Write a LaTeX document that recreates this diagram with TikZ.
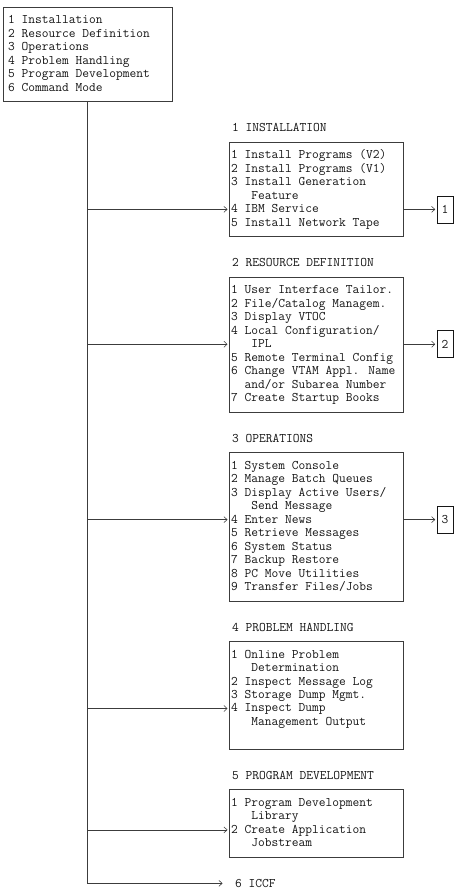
\documentclass[tikz,border=0pt]{standalone}
\usepackage{fontspec}
\usepackage{tikz}
\usetikzlibrary{arrows.meta,calc,positioning}
\definecolor{ink}{HTML}{161616}
\definecolor{rule}{HTML}{3C3C3C}
\newcommand{\ind}{\hphantom{000}}
\newcommand{\indb}{\hphantom{00}}
\newcommand{\rowh}{13.49}

\begin{document}
\begin{tikzpicture}[x=1pt,y=-1pt,font=\ttfamily\fontsize{13.1}{13.5}\selectfont,
  wire/.style={rule,line width=0.55pt},
  arr/.style={wire,-{Straight Barb[length=3.2pt,width=6pt]},shorten >=1.5pt},
  menubox/.style={draw=rule,line width=0.55pt,anchor=north west,inner sep=0pt,minimum width=174pt},
  tagbox/.style={draw=rule,line width=0.55pt,inner sep=0pt,minimum width=16pt,minimum height=27pt,color=ink},
  item/.style={anchor=base west,inner sep=0pt,color=ink}]
  \fill[white] (0,0) rectangle (456,895);
  \useasboundingbox (0,0) rectangle (456,895);
  \node[menubox,minimum width=169pt,minimum height={7*\rowh}] (main) at (3,7) {};
  \foreach \r/\t in {1/{1 Installation},2/{2 Resource Definition},3/{3 Operations},
    4/{4 Problem Handling},5/{5 Program Development},6/{6 Command Mode}}
    \node[item] (main\r) at (8,{10.5+\rowh*\r}) {\t};
  \foreach \name/\top/\rows/\head in {inst/10/7/{1 INSTALLATION},res/20/10/{2 RESOURCE DEFINITION},
    oper/33/11/{3 OPERATIONS},prob/47/8/{4 PROBLEM HANDLING},prog/58/5/{5 PROGRAM DEVELOPMENT}} {
    \node[item] (h\name) at (232,{10.5+\rowh*(\top-1)}) {\head};
    \node[menubox,minimum height={\rowh*\rows}] (\name) at (229,{7+\rowh*\top}) {};
  }
  \foreach \r/\t in {1/{1 Install Programs (V2)},2/{2 Install Programs (V1)},3/{3 Install Generation},
    4/{\ind Feature},5/{4 IBM Service},6/{5 Install Network Tape}}
    \node[item] (inst\r) at (231,{10.5+\rowh*(10+\r)}) {\t};
  \foreach \r/\t in {1/{1 User Interface Tailor.},2/{2 File/Catalog Managem.},3/{3 Display VTOC},
    4/{4 Local Configuration/},5/{\ind IPL},6/{5 Remote Terminal Config},7/{6 Change VTAM Appl. Name},
    8/{\indb and/or Subarea Number},9/{7 Create Startup Books}}
    \node[item] (res\r) at (231,{10.5+\rowh*(20+\r)}) {\t};
  \foreach \r/\t in {1/{1 System Console},2/{2 Manage Batch Queues},3/{3 Display Active Users/},
    4/{\ind Send Message},5/{4 Enter News},6/{5 Retrieve Messages},7/{6 System Status},
    8/{7 Backup Restore},9/{8 PC Move Utilities},10/{9 Transfer Files/Jobs}}
    \node[item] (oper\r) at (231,{10.5+\rowh*(33+\r)}) {\t};
  \foreach \r/\t in {1/{1 Online Problem},2/{\ind Determination},3/{2 Inspect Message Log},
    4/{3 Storage Dump Mgmt.},5/{4 Inspect Dump},6/{\ind Management Output}}
    \node[item] (prob\r) at (231,{10.5+\rowh*(47+\r)}) {\t};
  \foreach \r/\t in {1/{1 Program Development},2/{\ind Library},3/{2 Create Application},4/{\ind Jobstream}}
    \node[item] (prog\r) at (231,{10.5+\rowh*(58+\r)}) {\t};
  \node[item] (iccf) at (235,{10.5+\rowh*65}) {6 ICCF};
  \foreach \name/\r in {inst/15,res/25,oper/38,prob/52,prog/61} {
    \coordinate (j\name) at (87,{7+\rowh*\r});
    \draw[arr] (j\name) -- (j\name -| \name.west);
  }
  \foreach \name/\k/\r in {inst/1/15,res/2/25,oper/3/38} {
    \node[tagbox] (tag\k) at (445,{7+\rowh*\r}) {\k};
    \draw[arr] (tag\k -| \name.east) -- (tag\k.west);
  }
  \draw[arr] (main.south -| jinst) |- ($(iccf.west)+(-11pt,0)$);
\end{tikzpicture}
\end{document}
